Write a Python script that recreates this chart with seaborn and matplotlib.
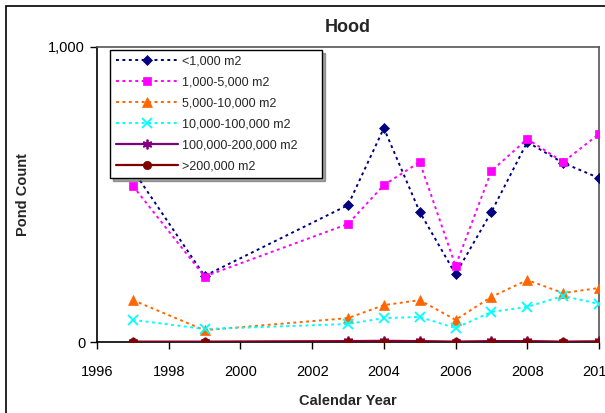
import numpy as np
import pandas as pd
import matplotlib
matplotlib.use('Agg')
import matplotlib.pyplot as plt
from matplotlib.patches import Rectangle
import seaborn as sns

# ── Data ───────────────────────────────────────────────
YEARS = [1997, 1999, 2003, 2004, 2005, 2006, 2007, 2008, 2009, 2010]

lt_1k      = [583, 224, 464, 725, 441, 230, 441, 678, 607, 556]
k1_5k      = [529, 222, 400, 532, 610, 258, 580, 688, 610, 705]
k5_10k     = [142, 40, 81, 125, 142, 75, 153, 210, 166, 183]
k10_100k   = [75, 44, 61, 81, 85, 47, 102, 119, 156, 129]
k100_200k  = [1, 1, 3, 4, 3, 1, 3, 3, 1, 2]
gt_200k    = [0, 0, 1, 1, 1, 0, 1, 1, 0, 1]

SERIES = ['<1,000 m2', '1,000-5,000 m2', '5,000-10,000 m2',
          '10,000-100,000 m2', '100,000-200,000 m2', '>200,000 m2']
VALUES = [lt_1k, k1_5k, k5_10k, k10_100k, k100_200k, gt_200k]

# colour, marker, marker size, line style
DOT = (0, (1.5, 1.8))
STYLES = [
    ('#000080', 'D', 5, DOT),
    ('#FF00FF', 's', 5.5, DOT),
    ('#FF6600', '^', 7, DOT),
    ('#00FFFF', 'x', 7, DOT),
    ('#800080', (6, 2, 0), 7, '-'),
    ('#800000', 'o', 6, '-'),
]

df = pd.DataFrame({'year': YEARS * len(SERIES),
                   'count': np.concatenate(VALUES),
                   'size': np.repeat(SERIES, len(YEARS))})

# ── Plot ───────────────────────────────────────────────
sns.set_style('white')
plt.rcParams['font.family'] = ['Liberation Sans', 'DejaVu Sans']

fig = plt.figure(figsize=(6.05, 4.13), dpi=100)
ax = fig.add_axes([97 / 605, 1 - 342 / 413, 502 / 605, 295 / 413])

for name, (col, mk, ms, ls) in zip(SERIES, STYLES):
    sub = df[df['size'] == name]
    lw = 1.4 if ls != '-' else 1.6
    edge_w = 1.3 if mk == 'x' or isinstance(mk, tuple) else 0.5
    sns.lineplot(data=sub, x='year', y='count', ax=ax, color=col,
                 marker=mk, markersize=ms, linewidth=lw, linestyle=ls,
                 markeredgecolor=col, markeredgewidth=edge_w,
                 label=name, zorder=3)

ax.set_xlim(1996, 2010)
ax.set_ylim(0, 1000)
ax.set_xticks(range(1996, 2011, 2))
ax.set_yticks([0, 1000])
ax.yaxis.set_major_formatter(plt.FuncFormatter(lambda v, _: f'{v:,.0f}'))
ax.tick_params(axis='both', direction='out', length=5, width=1,
               labelsize=10.5, colors='black', left=True, bottom=True)
ax.tick_params(axis='x', pad=11.5)

for side in ['left', 'bottom']:
    ax.spines[side].set_color('black')
    ax.spines[side].set_linewidth(1.2)
for side in ['top', 'right']:
    ax.spines[side].set_color('#555555')
    ax.spines[side].set_linewidth(1.2)

ax.set_title('Hood', fontsize=13, fontweight='bold', pad=11)
ax.set_xlabel('Calendar Year', fontsize=10.5, fontweight='bold', labelpad=11)
ax.set_ylabel('Pond Count', fontsize=10.5, fontweight='bold', labelpad=13)

leg = ax.legend(loc='upper left',
                bbox_to_anchor=(13 / 502, 0, 212 / 502, 1 - 3 / 295),
                mode='expand', fontsize=9, frameon=True, fancybox=False,
                shadow=True, handlelength=5.0, handletextpad=0.35,
                borderpad=0.45, labelspacing=0.72, borderaxespad=0)
leg.get_frame().set_edgecolor('black')
leg.get_frame().set_linewidth(1.0)

# chart area border
fig.patches.append(Rectangle((6 / 605, -0.05), 1.2, 1.05 - 6 / 413,
                             transform=fig.transFigure, fill=False,
                             edgecolor='black', linewidth=1.2))

fig.savefig('out.png', dpi=100)
